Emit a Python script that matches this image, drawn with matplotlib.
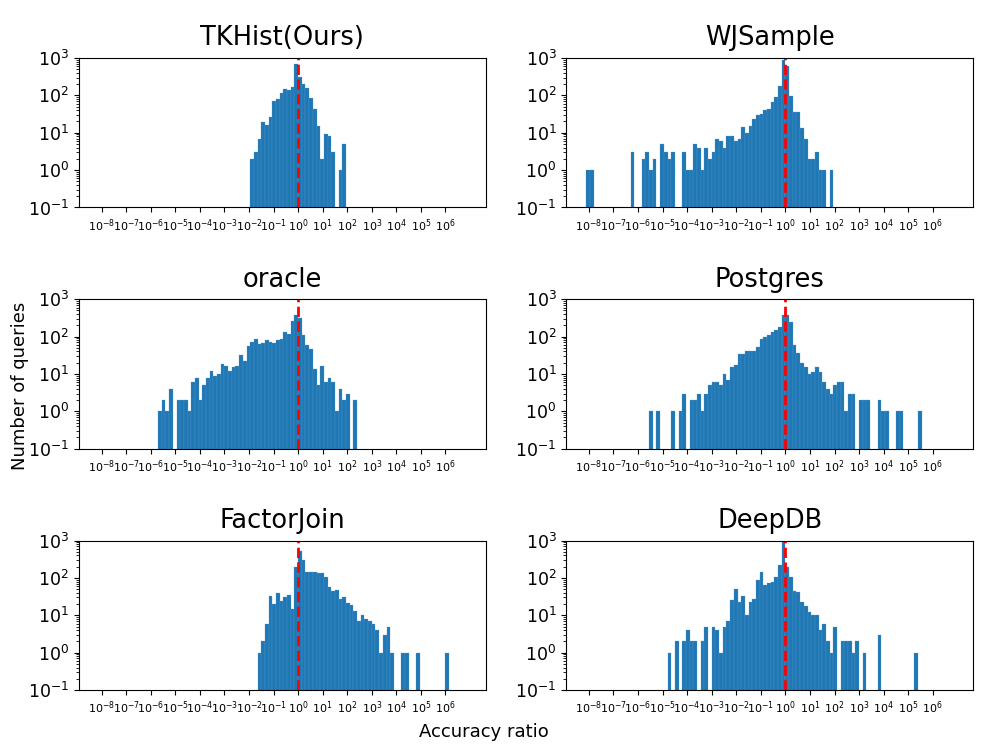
import numpy as np
import matplotlib
matplotlib.use('Agg')
import matplotlib.pyplot as plt

# histogram bins are 0.15 decades wide, bin k covers [0.15k, 0.15(k+1))
bin_w = 0.15
titles = ['TKHist(Ours)', 'WJSample', 'oracle', 'Postgres', 'FactorJoin', 'DeepDB']

# first bin index of each method, then counts per bin
tkhist_start = -13
tkhist = [2, 3, 7, 19, 16, 27, 70, 81, 117, 146, 135, 165, 678, 311, 199, 158,
          86, 43, 15, 2, 9, 8, 3, 0, 1, 5]

wjsample_start = -54
wjsample = [1, 1, 0, 0, 0, 0, 0, 0, 0, 0, 0, 0, 3, 0, 0, 2, 3, 1, 2, 0,
            5, 3, 2, 3, 0, 0, 3, 1, 1, 5, 4, 1, 4, 2, 3, 7, 6, 4, 8, 8,
            6, 7, 14, 10, 15, 24, 30, 32, 41, 43, 65, 90, 178, 900, 620, 98, 35, 35, 13, 7,
            2, 2, 3, 1, 1, 0, 1]

oracle_start = -38
oracle = [1, 2, 1, 4, 0, 2, 2, 2, 1, 6, 8, 2, 5, 8, 12, 9, 10, 19, 16, 12,
          15, 16, 33, 22, 57, 71, 89, 65, 67, 82, 71, 68, 80, 89, 134, 116, 263, 373, 310, 111,
          61, 47, 14, 5, 16, 6, 8, 6, 1, 4, 2, 3, 0, 2]

postgres_start = -37
postgres = [1, 0, 1, 0, 0, 0, 1, 0, 1, 3, 0, 2, 2, 3, 1, 3, 5, 6, 6, 5,
            10, 7, 15, 17, 34, 34, 40, 42, 42, 53, 84, 95, 111, 137, 155, 183, 382, 382, 243, 59,
            37, 20, 15, 10, 11, 15, 11, 6, 4, 3, 5, 6, 6, 1, 3, 3, 0, 2, 2, 2,
            0, 0, 2, 1, 1, 0, 0, 1, 1, 0, 0, 0, 0, 1]

factorjoin_start = -11
factorjoin = [1, 2, 6, 33, 20, 39, 24, 31, 35, 15, 200, 540, 297, 141, 144, 147, 138, 133, 108, 58,
              45, 48, 28, 30, 21, 19, 13, 7, 10, 8, 7, 6, 4, 1, 3, 5, 1, 0, 0, 1,
              1, 0, 0, 1, 0, 0, 0, 0, 0, 0, 0, 1]

deepdb_start = -32
deepdb = [1, 0, 2, 0, 2, 4, 2, 2, 0, 2, 5, 0, 5, 4, 1, 5, 7, 25, 52, 23,
          32, 10, 22, 28, 89, 140, 63, 74, 80, 105, 219, 885, 194, 105, 45, 41, 23, 18, 12, 10,
          10, 4, 6, 2, 1, 5, 0, 2, 2, 2, 1, 2, 0, 1, 0, 0, 0, 3, 0, 0,
          0, 0, 0, 0, 0, 0, 0, 1]

starts = [tkhist_start, wjsample_start, oracle_start, postgres_start, factorjoin_start, deepdb_start]
data = [tkhist, wjsample, oracle, postgres, factorjoin, deepdb]
exps = list(range(-8, 7))

fig = plt.figure(figsize=(9.96, 7.47), dpi=100)
fig.subplots_adjust(left=0.0793, right=0.977, bottom=0.0763, top=0.9224,
                    wspace=0.198, hspace=0.614)

for i in range(6):
    ax = fig.add_subplot(3, 2, i + 1)
    c = np.array(data[i], dtype=float)
    edges = (starts[i] + np.arange(len(c) + 1)) * bin_w
    ax.hist(edges[:-1] + bin_w / 2, bins=edges, weights=c, color='#1f77b4', log=True,
            edgecolor='#5c9dd0', linewidth=0.2)
    ax.axvline(0, color='red', linestyle='--', linewidth=2)
    ax.set_xlim(-8.92, 7.64)
    ax.set_ylim(0.1, 1000)
    ax.set_xticks(exps)
    ax.set_xticklabels(['$10^{%d}$' % e for e in exps], fontsize=8)
    ax.tick_params(axis='y', labelsize=12.5)
    ax.set_title(titles[i], fontsize=18.5, pad=9)

fig.text(0.486, 0.02, 'Accuracy ratio', ha='center', va='center', fontsize=13)
fig.text(0.02, 0.483, 'Number of queries', ha='center', va='center',
         rotation=90, fontsize=13)

fig.savefig('out.png', dpi=100)
